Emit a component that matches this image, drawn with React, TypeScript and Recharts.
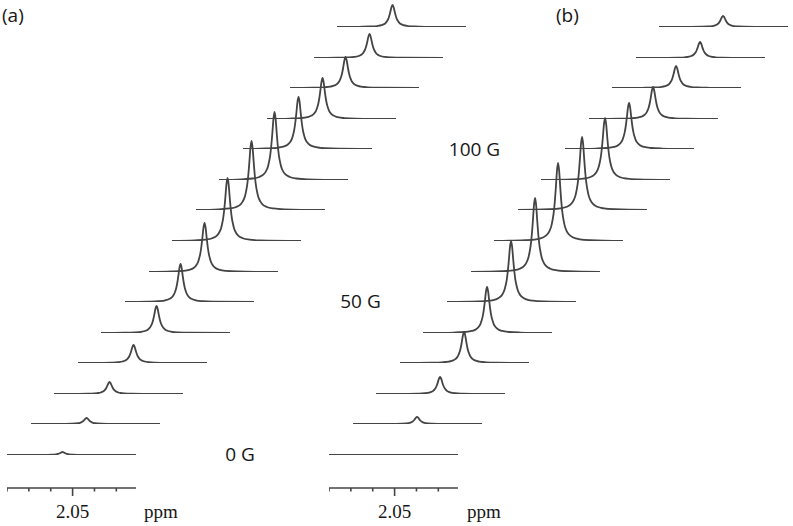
import React from 'react';
import { LineChart, Line, XAxis, YAxis } from 'recharts';

// ---- data ----
const axisTicks = [2.08, 2.07, 2.06, 2.05, 2.04, 2.03];
const labeledTicks = [2.05];
const ppmLeft = 2.08;
const ppmRight = 2.021;
const unitLabel = 'ppm';
const panelLabels = ['(a)', '(b)'];
const fieldLabels = ['0 G', '50 G', '100 G'];

// peak heights (a.u.) of the 15 stacked spectra, bottom to top
const peakHeightsA = [3, 6, 12, 18, 27, 38, 49, 63, 69, 68, 52, 41, 31, 24, 22];
const peakHeightsB = [0, 7, 17, 31, 46, 61, 74, 78, 73, 62, 46, 32, 22, 16, 11];
const peakCenterA = 2.0546;
const peakCenterB = 2.0507;

// line shape: ppm offset from centre and relative intensity
const shapeOffsets = [
  -0.015, -0.01, -0.007, -0.005, -0.004, -0.003, -0.0025, -0.002, -0.0015, -0.001, -0.0005,
  0,
  0.0005, 0.001, 0.0015, 0.002, 0.0025, 0.003, 0.004, 0.005, 0.007, 0.01, 0.015,
];
const shapeRel = [
  0.01, 0.022, 0.044, 0.083, 0.124, 0.2, 0.27, 0.36, 0.5, 0.69, 0.9,
  1,
  0.9, 0.69, 0.5, 0.36, 0.27, 0.2, 0.124, 0.083, 0.044, 0.022, 0.01,
];

// ---- layout ----
const INK = '#444444';
const TEXT = '#161616';
const TW = 129;
const PH = 80;
const MT = 3;
const MB = 3;
const STEP_X = 23.6;
const STEP_Y = 30.57;
const BASE_Y = 455;
const AXIS_Y = 488;

function buildTrace(height: number, center: number) {
  return [
    { ppm: ppmLeft, v: 0 },
    ...shapeOffsets.map((o, k) => ({ ppm: center - o, v: height * shapeRel[k] })),
    { ppm: ppmRight, v: 0 },
  ];
}

function Trace({ data, left, baseline }: { data: any[]; left: number; baseline: number }) {
  const h = MT + PH + MB;
  return (
    <div style={{ position: 'absolute', left, top: baseline - (MT + PH), width: TW, height: h }}>
      <LineChart width={TW} height={h} data={data} margin={{ top: MT, right: 0, bottom: MB, left: 0 }}>
        <XAxis type="number" dataKey="ppm" domain={[ppmRight, ppmLeft]} reversed hide allowDataOverflow />
        <YAxis type="number" domain={[0, PH]} hide allowDataOverflow />
        <Line
          type="monotone"
          dataKey="v"
          stroke={INK}
          strokeWidth={1.8}
          dot={false}
          isAnimationActive={false}
        />
      </LineChart>
    </div>
  );
}

function PpmTick(props: any) {
  const { x, y, payload } = props;
  const major = labeledTicks.includes(payload.value);
  return (
    <g>
      <line x1={x} y1={y} x2={x} y2={y + (major ? 8 : 3.5)} stroke={INK} strokeWidth={1.6} />
      {major && (
        <text
          x={x}
          y={y + 30}
          textAnchor="middle"
          fill={TEXT}
          style={{ fontFamily: '"Liberation Serif", serif', fontSize: 19 }}
        >
          {payload.value.toFixed(2)}
        </text>
      )}
    </g>
  );
}

function PpmAxis({ left }: { left: number }) {
  const top = 4;
  const plotH = 2;
  const axisH = 40;
  return (
    <div style={{ position: 'absolute', left, top: AXIS_Y - (top + plotH), width: TW + 2, height: top + plotH + axisH }}>
      <LineChart
        width={TW + 2}
        height={top + plotH + axisH}
        data={[{ ppm: ppmLeft, v: 0 }, { ppm: ppmRight, v: 0 }]}
        margin={{ top, right: 2, bottom: 0, left: 0 }}
      >
        <XAxis
          type="number"
          dataKey="ppm"
          domain={[ppmRight, ppmLeft]}
          reversed
          allowDataOverflow
          ticks={axisTicks}
          interval={0}
          height={axisH}
          tickSize={0}
          tickMargin={0}
          tickLine={false}
          axisLine={{ stroke: INK, strokeWidth: 1.7 }}
          tick={<PpmTick />}
        />
        <YAxis type="number" domain={[0, 1]} hide />
      </LineChart>
    </div>
  );
}

const panels = [
  { originX: 7, heights: peakHeightsA, center: peakCenterA, unitX: 144 },
  { originX: 329, heights: peakHeightsB, center: peakCenterB, unitX: 467 },
];

export default function App() {
  return (
    <div
      style={{
        position: 'fixed',
        left: 0,
        top: 0,
        width: 793,
        height: 526,
        background: '#fff',
        overflow: 'hidden',
      }}
    >
      {panels.map((p, pi) =>
        p.heights.map((h, i) => (
          <Trace
            key={`${pi}-${i}`}
            data={buildTrace(h, p.center)}
            left={p.originX + i * STEP_X}
            baseline={BASE_Y - i * STEP_Y}
          />
        ))
      )}
      {panels.map((p, pi) => (
        <PpmAxis key={`ax-${pi}`} left={p.originX} />
      ))}
      <svg width={793} height={526} style={{ position: 'absolute', left: 0, top: 0, pointerEvents: 'none' }}>
        <g style={{ fontFamily: '"Open Sans", sans-serif', fontSize: 19, fontWeight: 500 }} fill={TEXT}>
          <text x={2} y={21.5}>{panelLabels[0]}</text>
          <text x={556} y={21.5}>{panelLabels[1]}</text>
          <text x={240} y={461} textAnchor="middle">{fieldLabels[0]}</text>
          <text x={360.5} y={308} textAnchor="middle">{fieldLabels[1]}</text>
          <text x={474.5} y={156} textAnchor="middle">{fieldLabels[2]}</text>
        </g>
        <g style={{ fontFamily: '"Liberation Serif", serif', fontSize: 19 }} fill={TEXT}>
          {panels.map((p, pi) => (
            <text key={`u-${pi}`} x={p.unitX} y={518}>
              {unitLabel}
            </text>
          ))}
        </g>
      </svg>
    </div>
  );
}
